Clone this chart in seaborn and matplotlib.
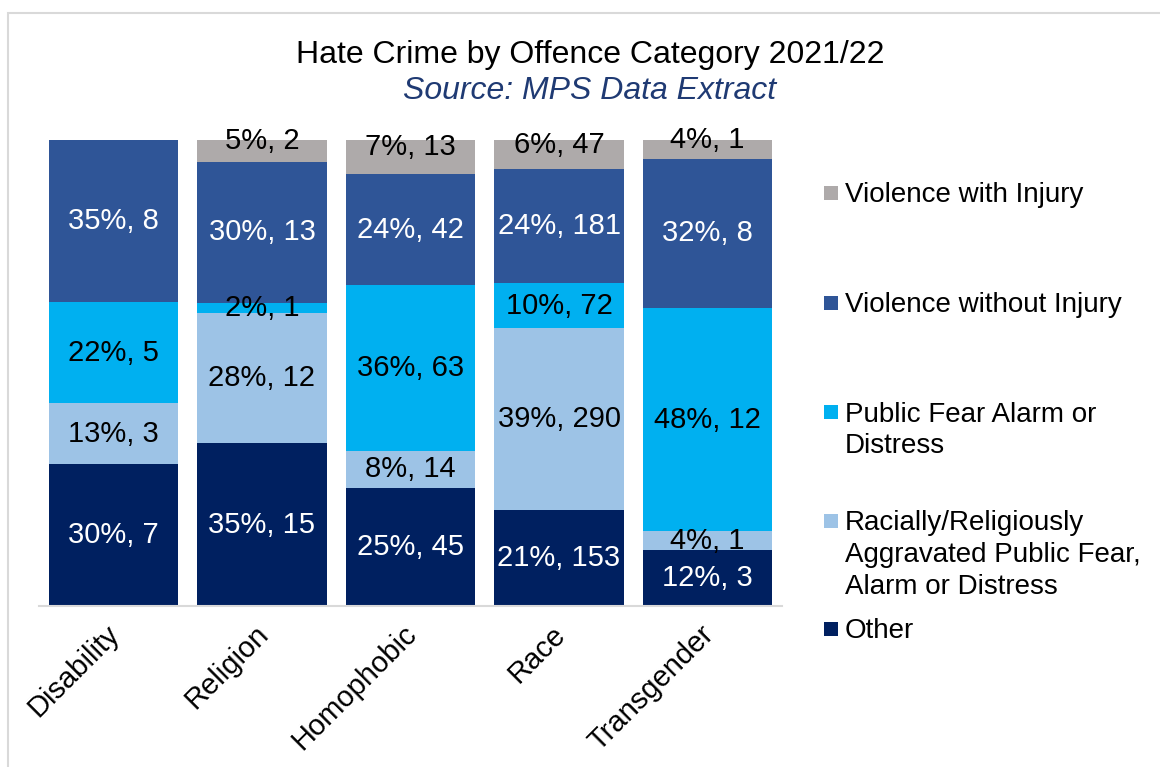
import numpy as np
import matplotlib
matplotlib.use("Agg")
import matplotlib.pyplot as plt
from matplotlib.patches import Rectangle
from matplotlib.transforms import ScaledTranslation
import seaborn as sns

# Offence counts per hate-crime strand, 2021/22
categories = ["Disability", "Religion", "Homophobic", "Race", "Transgender"]
other = [7, 15, 45, 153, 3]
racially_aggravated = [3, 12, 14, 290, 1]
public_fear = [5, 1, 63, 72, 12]
violence_without_injury = [8, 13, 42, 181, 8]
violence_with_injury = [0, 2, 13, 47, 1]

series_names = [
    "Other",
    "Racially/Religiously\nAggravated Public Fear,\nAlarm or Distress",
    "Public Fear Alarm or\nDistress",
    "Violence without Injury",
    "Violence with Injury",
]
series_counts = [other, racially_aggravated, public_fear,
                 violence_without_injury, violence_with_injury]
series_colors = ["#002060", "#9DC3E6", "#00B0F0", "#2F5597", "#AEAAAA"]
label_colors = ["white", "black", "black", "white", "black"]

sns.set_theme(style="white")
plt.rcParams["font.family"] = ["Liberation Sans", "DejaVu Sans"]

W, H = 1160, 767
fig = plt.figure(figsize=(W / 100, H / 100), dpi=100)
fig.patch.set_facecolor("white")

def fx(px):
    return px / W

def fy(py):
    return 1 - py / H

ax = fig.add_axes([fx(39.25), fy(606), fx(781.75 - 39.25), 466 / H])

counts = np.array(series_counts, dtype=float)
totals = counts.sum(axis=0)
shares = counts / totals * 100

bottom = np.zeros(len(categories))
for i, (name, col) in enumerate(zip(series_names, series_colors)):
    sns.barplot(x=categories, y=shares[i], bottom=bottom, color=col,
                saturation=1, width=0.87, errorbar=None, ax=ax,
                linewidth=0)
    for j, cat in enumerate(categories):
        c = int(counts[i, j])
        if c == 0:
            continue
        yc = bottom[j] + shares[i, j] / 2
        dy = 7 if i == len(series_names) - 1 else 0
        ax.annotate(f"{round(shares[i, j])}%, {c}", (j, yc),
                    xytext=(0, dy), textcoords="offset points",
                    ha="center", va="center", fontsize=21,
                    color=label_colors[i])
    bottom = bottom + shares[i]

ax.set_xlim(-0.5, 4.5)
ax.set_ylim(0, 100)
ax.set_yticks([])
ax.set_ylabel("")
for side in ["left", "right", "top"]:
    ax.spines[side].set_visible(False)
ax.spines["bottom"].set_color("#D9D9D9")
ax.spines["bottom"].set_linewidth(1.5)
ax.tick_params(axis="x", length=0, pad=10, labelsize=21, colors="black")
shift = ScaledTranslation(-8 / 100, 0, fig.dpi_scale_trans)
for lab in ax.get_xticklabels():
    lab.set_rotation(45)
    lab.set_ha("right")
    lab.set_va("top")
    lab.set_rotation_mode("anchor")
    lab.set_transform(lab.get_transform() + shift)

# Titles
fig.text(fx(590), fy(63), "Hate Crime by Offence Category 2021/22",
         ha="center", va="baseline", fontsize=23, color="black")
fig.text(fx(590), fy(99), "Source: MPS Data Extract", ha="center",
         va="baseline", fontsize=23, style="italic", color="#1F3A73")

# Legend, top entry first
legend_rows = [193, 303, 412, 521, 629]
for row, idx in zip(legend_rows, range(len(series_names) - 1, -1, -1)):
    fig.add_artist(Rectangle((fx(824), fy(row + 7)), 14 / W, 14 / H,
                             transform=fig.transFigure,
                             facecolor=series_colors[idx], edgecolor="none"))
    fig.text(fx(845), fy(row - 10.5), series_names[idx], ha="left",
             va="top", fontsize=20, color="black", linespacing=1.29)

# Chart-area frame
fig.add_artist(Rectangle((fx(8), -0.1), 1.2, fy(13) + 0.1,
                         transform=fig.transFigure, fill=False,
                         edgecolor="#D9D9D9", linewidth=1.5))

fig.savefig("out.png", dpi=100)
